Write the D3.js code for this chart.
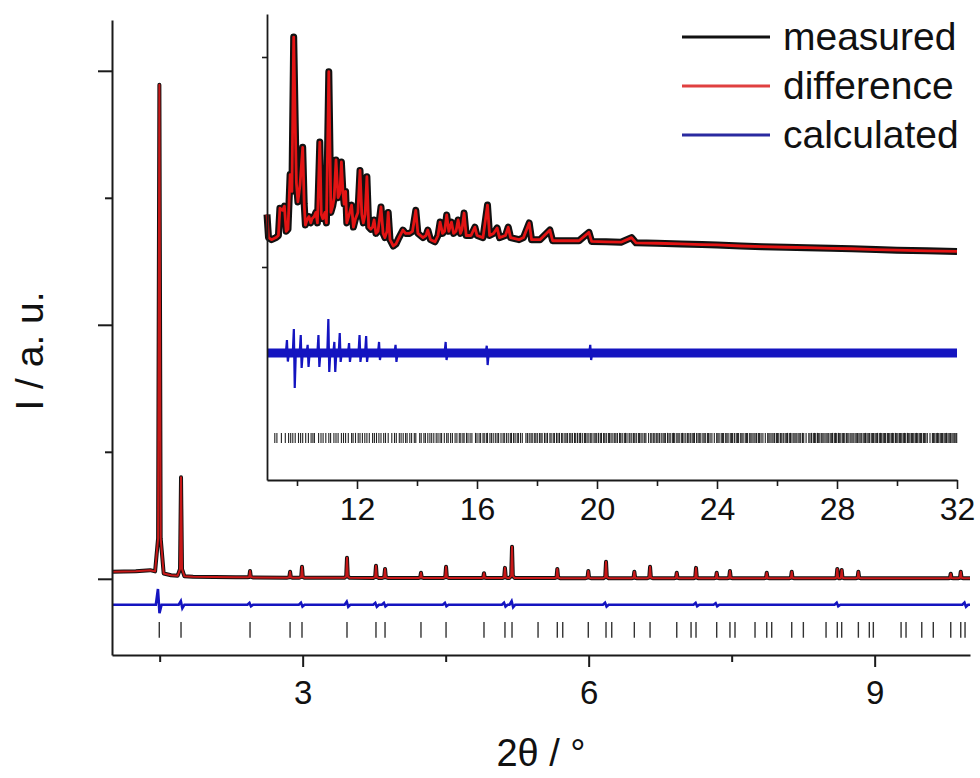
<!DOCTYPE html>
<html><head><meta charset="utf-8">
<script src="https://cdn.jsdelivr.net/npm/d3@7"></script>
<style>
body{margin:0;background:#fff}
svg{display:block}
text{font-family:"Liberation Sans",Arial,Helvetica,sans-serif;fill:#111}
</style>
</head><body>
<svg id="chart" width="980" height="778"></svg>
<script>
// ---------------- DATA ----------------
const legendLabels = ["measured", "difference", "calculated"];
const mainXTicks = [3, 6, 9];
const mainXMinor = [1.5, 4.5, 7.5];
const mainYTicks = [0, 1, 2];
const mainYMinor = [0.5, 1.5];
const insetXTicks = [12, 16, 20, 24, 28, 32];
const insetXMinor = [10, 14, 18, 22, 26, 30];
const insetYTicks = [0, 1];

// main pattern: background knots
const mainBgX = [1.0, 1.25, 1.40, 1.62, 1.85, 2.3, 3.0, 5.0, 7.0, 9.0, 10.0];
const mainBgY = [0.028, 0.030, 0.034, 0.014, 0.008, 0.006, 0.004, 0.003, 0.002, 0.002, 0.002];
// main pattern: peak positions (2θ) and peak tops
const mainPeakPos = [1.497, 1.724, 2.448, 2.868, 2.993, 3.465, 3.769, 3.864, 4.241, 4.504, 4.902,
  5.122, 5.196, 5.671, 5.996, 6.182, 6.479, 6.644, 6.924, 7.126, 7.343, 7.482, 7.868, 8.130,
  8.608, 8.654, 8.829, 9.798, 9.903];
const mainPeakTop = [1.945, 0.400, 0.031, 0.028, 0.047, 0.083, 0.051, 0.039, 0.024, 0.047, 0.022,
  0.043, 0.126, 0.039, 0.031, 0.067, 0.028, 0.047, 0.024, 0.043, 0.024, 0.031, 0.024, 0.028,
  0.039, 0.035, 0.028, 0.020, 0.028];
// main blue curve: level and spikes
const mainDiffLevel = -0.102;
const mainDiffPos = [1.49, 1.73, 2.45, 2.99, 3.47, 3.77, 3.86, 4.50, 5.12, 5.20, 6.18, 7.13, 7.34, 8.61, 9.95];
const mainDiffUp = [-0.040, -0.088, -0.095, -0.094, -0.090, -0.095, -0.095, -0.095, -0.094, -0.088, -0.094, -0.095, -0.096, -0.094, -0.094];
const mainDiffDown = [-0.135, -0.116, -0.108, -0.109, -0.110, -0.110, -0.109, -0.108, -0.109, -0.112, -0.109, -0.108, -0.108, -0.108, -0.110];
// main reflection markers
const mainReflections = [1.496, 1.724, 2.448, 2.868, 2.993, 3.465, 3.769, 3.864, 4.241, 4.504, 4.902,
  5.122, 5.196, 5.469, 5.671, 5.728, 5.996, 6.182, 6.242, 6.479, 6.644, 6.924, 7.074, 7.126, 7.343,
  7.482, 7.535, 7.745, 7.868, 7.920, 8.130, 8.252, 8.490, 8.608, 8.654, 8.829, 8.944, 8.986, 9.277,
  9.329, 9.494, 9.615, 9.798, 9.903, 9.948];

// inset pattern trace (2θ, intensity)
const insetX = [9.00, 9.05, 9.15, 9.30, 9.38, 9.43, 9.52, 9.58, 9.64, 9.70, 9.77, 9.83, 9.89, 9.94, 9.98,
  10.03, 10.10, 10.19, 10.24, 10.28, 10.35, 10.40, 10.46, 10.50, 10.57, 10.63, 10.68, 10.76, 10.81,
  10.86, 10.93, 10.98, 11.06, 11.13, 11.19, 11.24, 11.30, 11.37, 11.43, 11.48, 11.53, 11.57, 11.62,
  11.66, 11.74, 11.82, 11.88, 11.95, 12.03, 12.10, 12.16, 12.21, 12.27, 12.33, 12.39, 12.46, 12.52,
  12.57, 12.63, 12.70, 12.80, 12.87, 12.93, 13.00, 13.04, 13.10, 13.21, 13.30, 13.40, 13.53, 13.62,
  13.75, 13.85, 13.96, 14.03, 14.20, 14.30, 14.36, 14.45, 14.60, 14.70, 14.77, 14.85, 14.92, 14.99,
  15.06, 15.15, 15.22, 15.30, 15.37, 15.45, 15.50, 15.57, 15.64, 15.80, 15.93, 16.00, 16.20, 16.35,
  16.42, 16.55, 16.67, 16.75, 16.95, 17.04, 17.12, 17.40, 17.55, 17.74, 17.82, 18.10, 18.43, 18.52,
  19.00, 19.40, 19.73, 19.82, 20.30, 20.80, 21.15, 21.30, 22.00, 22.80, 23.50, 24.00, 24.80, 25.50,
  26.30, 27.00, 27.80, 28.50, 29.30, 30.00, 31.00, 32.00];
const insetY = [0.25, 0.14, 0.13, 0.14, 0.15, 0.28, 0.27, 0.29, 0.17, 0.18, 0.44, 0.36, 1.095, 0.69, 0.40,
  0.31, 0.39, 0.57, 0.30, 0.20, 0.23, 0.24, 0.21, 0.23, 0.24, 0.26, 0.21, 0.595, 0.25,
  0.23, 0.26, 0.21, 0.93, 0.26, 0.29, 0.33, 0.51, 0.33, 0.35, 0.50, 0.36, 0.30, 0.36,
  0.21, 0.25, 0.295, 0.19, 0.23, 0.26, 0.46, 0.25, 0.21, 0.25, 0.43, 0.19, 0.18, 0.19,
  0.224, 0.16, 0.17, 0.286, 0.16, 0.14, 0.17, 0.26, 0.13, 0.10, 0.11, 0.14, 0.176, 0.16,
  0.16, 0.17, 0.27, 0.16, 0.14, 0.15, 0.176, 0.13, 0.12, 0.15, 0.214, 0.16, 0.17, 0.248,
  0.17, 0.214, 0.16, 0.17, 0.224, 0.16, 0.18, 0.257, 0.15, 0.15, 0.19, 0.15, 0.14, 0.295,
  0.15, 0.16, 0.186, 0.14, 0.15, 0.19, 0.14, 0.13, 0.14, 0.21, 0.13, 0.13, 0.176, 0.125,
  0.125, 0.125, 0.165, 0.122, 0.12, 0.118, 0.14, 0.115, 0.113, 0.11, 0.107, 0.105, 0.10, 0.097,
  0.094, 0.092, 0.089, 0.087, 0.083, 0.08, 0.077, 0.074];
// inset blue curve: level and spikes
const insetDiffLevel = -0.41;
const insetDiffPos = [9.68, 9.91, 10.14, 10.37, 10.73, 11.06, 11.26, 11.44, 11.75, 12.10, 12.32, 12.75, 13.30, 14.97, 16.34, 19.79];
const insetDiffUp = [-0.348, -0.295, -0.324, -0.371, -0.324, -0.248, -0.357, -0.314, -0.362, -0.324, -0.329, -0.357, -0.371, -0.357, -0.375, -0.371];
const insetDiffDown = [-0.45, -0.576, -0.481, -0.476, -0.476, -0.50, -0.50, -0.452, -0.452, -0.452, -0.452, -0.443, -0.452, -0.443, -0.467, -0.443];
// inset reflection markers
const insetReflections = [9.26, 9.33, 9.48, 9.61, 9.72, 9.79, 9.86, 9.94, 10.05, 10.12, 10.19, 10.29, 10.38,
  10.47, 10.53, 10.58, 10.72, 10.80, 10.87, 10.96, 11.06, 11.12, 11.23, 11.30, 11.37, 11.48, 11.55,
  11.62, 11.71, 11.82, 11.87, 11.95, 12.04, 12.10, 12.18, 12.26, 12.33, 12.41, 12.52, 12.58, 12.65,
  12.73, 12.80, 12.89, 12.95, 13.04, 13.16, 13.25, 13.31, 13.41, 13.47, 13.54, 13.62, 13.67, 13.76,
  13.82, 13.91, 13.96, 14.09, 14.14, 14.23, 14.28, 14.36, 14.43, 14.49, 14.56, 14.64, 14.70, 14.77,
  14.82, 14.91, 14.99, 15.04, 15.12, 15.18, 15.27, 15.33, 15.41, 15.46, 15.53, 15.57, 15.65, 15.70,
  15.77, 15.83, 15.95, 16.00, 16.07, 16.12, 16.20, 16.24, 16.31, 16.35, 16.43, 16.48, 16.54, 16.61,
  16.67, 16.72, 16.80, 16.87, 16.91, 16.98, 17.04, 17.11, 17.15, 17.22, 17.27, 17.34, 17.38, 17.45,
  17.51, 17.63, 17.68, 17.74, 17.80, 17.84, 17.91, 17.96, 18.01, 18.08, 18.13, 18.17, 18.25, 18.30,
  18.35, 18.43, 18.47, 18.54, 18.58, 18.65, 18.70, 18.75, 18.82, 18.86, 18.93, 18.97, 19.02, 19.09,
  19.13, 19.18, 19.25, 19.29, 19.35, 19.41, 19.45, 19.51, 19.58, 19.62, 19.67, 19.73, 19.79, 19.83,
  19.90, 19.94, 19.99, 20.05, 20.11, 20.15, 20.22, 20.26, 20.31, 20.38, 20.42, 20.47, 20.53, 20.59,
  20.63, 20.68, 20.75, 20.79, 20.84, 20.91, 20.95, 21.00, 21.07, 21.10, 21.16, 21.22, 21.26, 21.31,
  21.38, 21.42, 21.47, 21.53, 21.59, 21.63, 21.72, 21.79, 21.83, 21.89, 21.93, 21.99, 22.03, 22.08, 22.14,
  22.20, 22.24, 22.28, 22.35, 22.40, 22.44, 22.51, 22.55, 22.59, 22.66, 22.70, 22.74, 22.81, 22.85,
  22.90, 22.96, 23.02, 23.06, 23.11, 23.17, 23.21, 23.25, 23.32, 23.37, 23.41, 23.46, 23.53, 23.57,
  23.61, 23.68, 23.72, 23.77, 23.83, 23.91, 23.99, 24.03, 24.07, 24.14, 24.18, 24.22, 24.29, 24.33, 24.37,
  24.44, 24.48, 24.52, 24.58, 24.64, 24.68, 24.72, 24.79, 24.83, 24.87, 24.94, 24.98, 25.02, 25.09,
  25.13, 25.17, 25.23, 25.27, 25.32, 25.38, 25.42, 25.47, 25.53, 25.61, 25.69, 25.73, 25.77, 25.83, 25.87,
  25.92, 25.98, 26.02, 26.06, 26.12, 26.16, 26.21, 26.27, 26.31, 26.35, 26.41, 26.45, 26.50, 26.56,
  26.60, 26.64, 26.70, 26.74, 26.79, 26.85, 26.89, 26.97, 27.06, 27.10, 27.15, 27.21, 27.25, 27.29, 27.35,
  27.39, 27.43, 27.49, 27.53, 27.57, 27.63, 27.67, 27.71, 27.77, 27.81, 27.85, 27.91, 27.95, 27.99,
  28.05, 28.09, 28.13, 28.19, 28.22, 28.26, 28.32, 28.36, 28.40, 28.46, 28.50, 28.54, 28.60, 28.64,
  28.68, 28.73, 28.77, 28.81, 28.87, 28.91, 28.95, 29.00, 29.04, 29.08, 29.14, 29.18, 29.22, 29.27,
  29.31, 29.35, 29.41, 29.45, 29.49, 29.54, 29.58, 29.62, 29.68, 29.72, 29.76, 29.81, 29.85, 29.89,
  29.95, 29.99, 30.03, 30.08, 30.12, 30.16, 30.21, 30.25, 30.29, 30.35, 30.39, 30.43, 30.48, 30.52,
  30.56, 30.61, 30.65, 30.69, 30.74, 30.78, 30.82, 30.88, 30.92, 30.96, 31.01, 31.10, 31.18, 31.22, 31.26,
  31.31, 31.35, 31.39, 31.44, 31.48, 31.52, 31.57, 31.61, 31.65, 31.70, 31.74, 31.78, 31.83, 31.87,
  31.91, 31.96, 31.99];

// ---------------- DRAWING ----------------
const svg = d3.select("#chart");
const C_BLACK = "#111", C_RED = "#e31414", C_BLUE = "#1414c0", C_AXIS = "#1a1a1a";

const mx = d3.scaleLinear().domain([1, 10]).range([112, 970]);
const my = d3.scaleLinear().domain([-0.3, 2.2]).range([655, 20]);
const ix = d3.scaleLinear().domain([9, 32]).range([267, 957]);
const iy = d3.scaleLinear().domain([-1.0143, 1.2048]).range([480, 14]);

// ---- main profile points from peak list ----
const bg = d3.scaleLinear().domain(mainBgX).range(mainBgY).clamp(true);
const hwOf = h => h > 1 ? 0.045 : (h > 0.3 ? 0.035 : 0.028);
let mainPts = [];
mainBgX.forEach((x, i) => {
  const inside = mainPeakPos.some((p, k) => Math.abs(x - p) < hwOf(mainPeakTop[k]));
  if (!inside) mainPts.push([x, mainBgY[i]]);
});
mainPeakPos.forEach((p, i) => {
  const h = mainPeakTop[i], hw = hwOf(h), b = bg(p);
  const sk = b + (h - b) * 0.07;
  mainPts.push([p - hw, bg(p - hw)], [p - hw * 0.3, sk], [p, h], [p + hw * 0.3, sk], [p + hw, bg(p + hw)]);
});
mainPts.sort((a, b) => a[0] - b[0]);

const lineMain = d3.line().x(d => mx(d[0])).y(d => my(d[1]));
const lineInset = d3.line().x(d => ix(d[0])).y(d => iy(d[1]));

// main curves
svg.append("path").attr("d", lineMain(mainPts)).attr("fill", "none")
  .attr("stroke", C_BLACK).attr("stroke-width", 4).attr("stroke-linejoin", "round");
svg.append("path").attr("d", lineMain(mainPts)).attr("fill", "none")
  .attr("stroke", "#c81818").attr("stroke-width", 2).attr("stroke-linejoin", "round");

// main blue
let mainDiffPts = [[1, mainDiffLevel]];
mainDiffPos.forEach((p, i) => {
  mainDiffPts.push([p - 0.03, mainDiffLevel], [p - 0.008, mainDiffUp[i]], [p + 0.008, mainDiffDown[i]], [p + 0.03, mainDiffLevel]);
});
mainDiffPts.push([10, mainDiffLevel]);
svg.append("path").attr("d", lineMain(mainDiffPts)).attr("fill", "none")
  .attr("stroke", C_BLUE).attr("stroke-width", 2.6);

// main reflection markers
svg.append("g").selectAll("line").data(mainReflections).join("line")
  .attr("x1", d => mx(d)).attr("x2", d => mx(d))
  .attr("y1", my(-0.17)).attr("y2", my(-0.232))
  .attr("stroke", "#333").attr("stroke-width", 1.4);

// inset curves
const insetPts = insetX.map((x, i) => [x, insetY[i]]);
svg.append("path").attr("d", lineInset(insetPts)).attr("fill", "none")
  .attr("stroke", C_BLACK).attr("stroke-width", 7).attr("stroke-linejoin", "round");
svg.append("path").attr("d", lineInset(insetPts)).attr("fill", "none")
  .attr("stroke", C_RED).attr("stroke-width", 2.8).attr("stroke-linejoin", "round");

// inset blue band + spikes
svg.append("path").attr("d", lineInset([[9, insetDiffLevel], [32, insetDiffLevel]]))
  .attr("stroke", C_BLUE).attr("stroke-width", 9).attr("fill", "none");
let insetDiffPts = [[9, insetDiffLevel]];
insetDiffPos.forEach((p, i) => {
  insetDiffPts.push([p - 0.05, insetDiffLevel], [p - 0.015, insetDiffUp[i]], [p + 0.015, insetDiffDown[i]], [p + 0.05, insetDiffLevel]);
});
insetDiffPts.push([32, insetDiffLevel]);
svg.append("path").attr("d", lineInset(insetDiffPts)).attr("fill", "none")
  .attr("stroke", C_BLUE).attr("stroke-width", 2.2);

// inset reflection markers
svg.append("g").selectAll("line").data(insetReflections).join("line")
  .attr("x1", d => ix(d)).attr("x2", d => ix(d))
  .attr("y1", iy(-0.79)).attr("y2", iy(-0.838))
  .attr("stroke", "#222").attr("stroke-width", 1.1);

// ---- axes ----
function styleAxis(g, fs, ty) {
  g.select(".domain").attr("stroke", C_AXIS).attr("stroke-width", 2);
  g.selectAll(".tick line").attr("stroke", C_AXIS).attr("stroke-width", 2);
  g.selectAll(".tick text").attr("font-size", fs).attr("fill", "#111")
    .attr("font-family", '"Liberation Sans", Arial, sans-serif');
  if (ty !== undefined) g.selectAll(".tick text").attr("y", ty);
}
// main x
const gmx = svg.append("g").attr("transform", "translate(0,655)")
  .call(d3.axisBottom(mx).tickValues(mainXTicks).tickSize(12).tickSizeOuter(0).tickFormat(d3.format("d")));
styleAxis(gmx, 33, 26);
const gmx2 = svg.append("g").attr("transform", "translate(0,655)")
  .call(d3.axisBottom(mx).tickValues(mainXMinor).tickSize(7).tickFormat(""));
gmx2.select(".domain").remove(); styleAxis(gmx2, 0);
// main y
const gmy = svg.append("g").attr("transform", "translate(112,0)")
  .call(d3.axisLeft(my).tickValues(mainYTicks).tickSize(14).tickSizeOuter(0).tickFormat(""));
styleAxis(gmy, 0);
const gmy2 = svg.append("g").attr("transform", "translate(112,0)")
  .call(d3.axisLeft(my).tickValues(mainYMinor).tickSize(7).tickFormat(""));
gmy2.select(".domain").remove(); styleAxis(gmy2, 0);
// inset x
const gix = svg.append("g").attr("transform", "translate(0,480)")
  .call(d3.axisBottom(ix).tickValues(insetXTicks).tickSize(9).tickSizeOuter(0).tickFormat(d3.format("d")));
styleAxis(gix, 32, 17);
const gix2 = svg.append("g").attr("transform", "translate(0,480)")
  .call(d3.axisBottom(ix).tickValues(insetXMinor).tickSize(6).tickFormat(""));
gix2.select(".domain").remove(); styleAxis(gix2, 0);
// inset y
const giy = svg.append("g").attr("transform", "translate(267,0)")
  .call(d3.axisLeft(iy).tickValues(insetYTicks).tickSize(5).tickSizeOuter(0).tickFormat(""));
styleAxis(giy, 0);
[gix, gix2, giy].forEach(g => { g.select(".domain").attr("stroke-width", 1.8); g.selectAll(".tick line").attr("stroke-width", 1.6); });

// axis titles
svg.append("text").attr("transform", "translate(43,351) rotate(-90)")
  .attr("text-anchor", "middle").attr("font-size", 39).text("I / a. u.");
svg.append("text").attr("x", 541).attr("y", 766)
  .attr("text-anchor", "middle").attr("font-size", 38).text("2θ / °");

// legend
const legColors = [C_BLACK, "#e04040", "#2a2aa0"];
const leg = svg.append("g");
legendLabels.forEach((lab, i) => {
  const y = 37 + i * 49;
  leg.append("line").attr("x1", 682).attr("x2", 770).attr("y1", y).attr("y2", y)
    .attr("stroke", legColors[i]).attr("stroke-width", 3);
  leg.append("text").attr("x", 783).attr("y", y + 13).attr("font-size", 39).text(lab);
});
</script>
</body></html>
